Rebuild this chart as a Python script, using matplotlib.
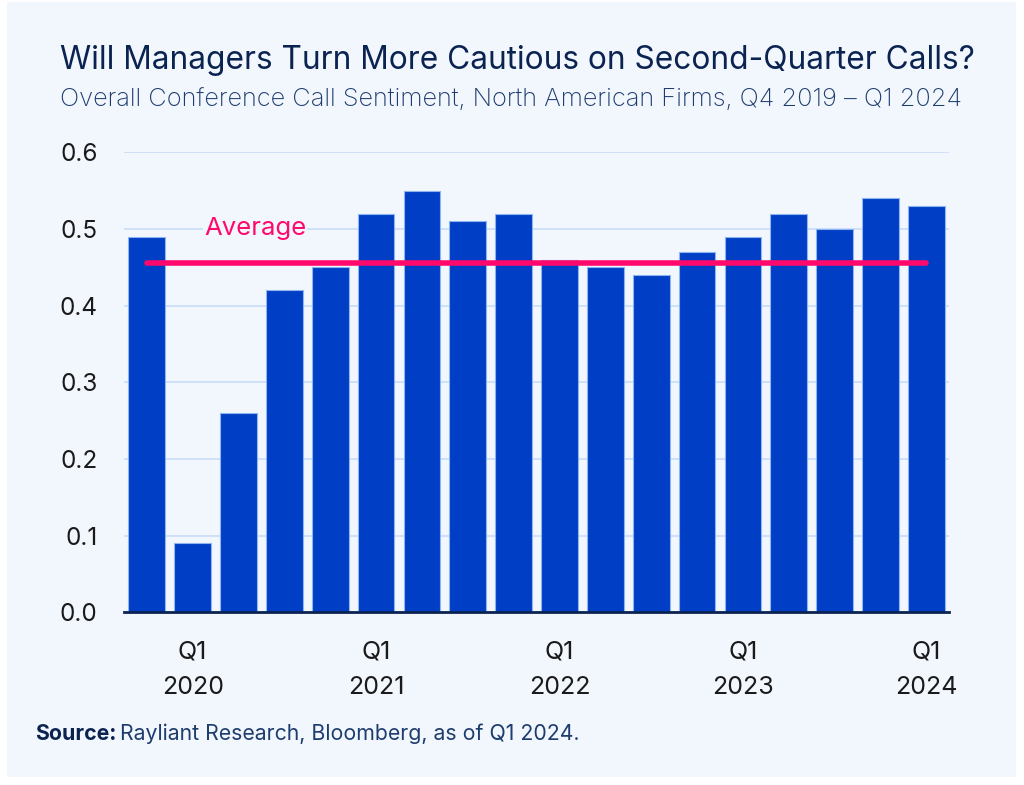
import numpy as np
import matplotlib.pyplot as plt

plt.rcParams['font.family'] = ['Inter', 'DejaVu Sans']

quarters = ['Q4 2019', 'Q1 2020', 'Q2 2020', 'Q3 2020', 'Q4 2020',
            'Q1 2021', 'Q2 2021', 'Q3 2021', 'Q4 2021',
            'Q1 2022', 'Q2 2022', 'Q3 2022', 'Q4 2022',
            'Q1 2023', 'Q2 2023', 'Q3 2023', 'Q4 2023', 'Q1 2024']
sentiment = [0.49, 0.09, 0.26, 0.42, 0.45, 0.52, 0.55, 0.51, 0.52,
             0.46, 0.45, 0.44, 0.47, 0.49, 0.52, 0.50, 0.54, 0.53]
tick_pos = [1, 5, 9, 13, 17]
tick_labels = ['Q1\n2020', 'Q1\n2021', 'Q1\n2022', 'Q1\n2023', 'Q1\n2024']
y_ticks = [0.0, 0.1, 0.2, 0.3, 0.4, 0.5, 0.6]

bg = '#F2F7FE'
navy = '#0B2350'
bar_col = '#003FC5'
pink = '#FF0A6C'

fig = plt.figure(figsize=(10.24, 7.85), dpi=100)
fig.patch.set_facecolor('white')
panel = plt.Rectangle((0.007, 0.01), 0.985, 0.987, transform=fig.transFigure,
                      facecolor=bg, edgecolor='none', zorder=-10)
fig.patches.append(panel)

ax = fig.add_axes([0.121, 0.22, 0.806, 0.586])
ax.set_facecolor(bg)
x = np.arange(len(sentiment))
ax.bar(x, sentiment, width=0.8, color=bar_col, edgecolor='#8FB4F0',
       linewidth=0.8, zorder=3)

avg = np.mean(sentiment)
ax.plot([x[0], x[-1]], [avg, avg], color=pink, lw=4, solid_capstyle='round',
        zorder=4)
ax.text(2.36, 0.5, 'Average', color=pink, fontsize=18.5, ha='center',
        va='center', zorder=2,
        bbox=dict(facecolor=bg, edgecolor='none', pad=1))

ax.set_xlim(-0.5, 17.5)
ax.set_ylim(0, 0.6)
ax.set_yticks(y_ticks)
ax.set_yticklabels([f'{v:.1f}' for v in y_ticks])
ax.set_xticks(tick_pos)
ax.set_xticklabels(tick_labels, linespacing=1.7)
ax.tick_params(axis='both', length=0, colors='#1A1A1A')
ax.tick_params(axis='y', pad=19, labelsize=17.5)
ax.tick_params(axis='x', pad=20, labelsize=18)
ax.yaxis.grid(True, color='#C7DDF9', lw=1.2, zorder=0)
for s in ['top', 'right', 'left']:
    ax.spines[s].set_visible(False)
ax.spines['bottom'].set_color(navy)
ax.spines['bottom'].set_linewidth(2)
ax.spines['bottom'].set_zorder(5)

fig.text(0.059, 0.923, 'Will Managers Turn More Cautious on Second-Quarter Calls?',
         fontsize=22.8, color=navy, ha='left', va='center')
fig.text(0.059, 0.873,
         'Overall Conference Call Sentiment, North American Firms, Q4 2019 \u2013 Q1 2024',
         fontsize=18.3, color='#1E3D6E', ha='left', va='center', fontweight='light')
t = fig.text(0.034, 0.065, 'Source:', fontsize=15.3, color=navy,
             fontweight='bold', ha='left', va='center')
fig.canvas.draw()
bb = t.get_window_extent()
fig.text(bb.x1 / fig.bbox.width + 0.004, 0.065,
         'Rayliant Research, Bloomberg, as of Q1 2024.', fontsize=15.3,
         color='#1E3D6E', ha='left', va='center')

fig.savefig('out.png', dpi=100, facecolor='white')
